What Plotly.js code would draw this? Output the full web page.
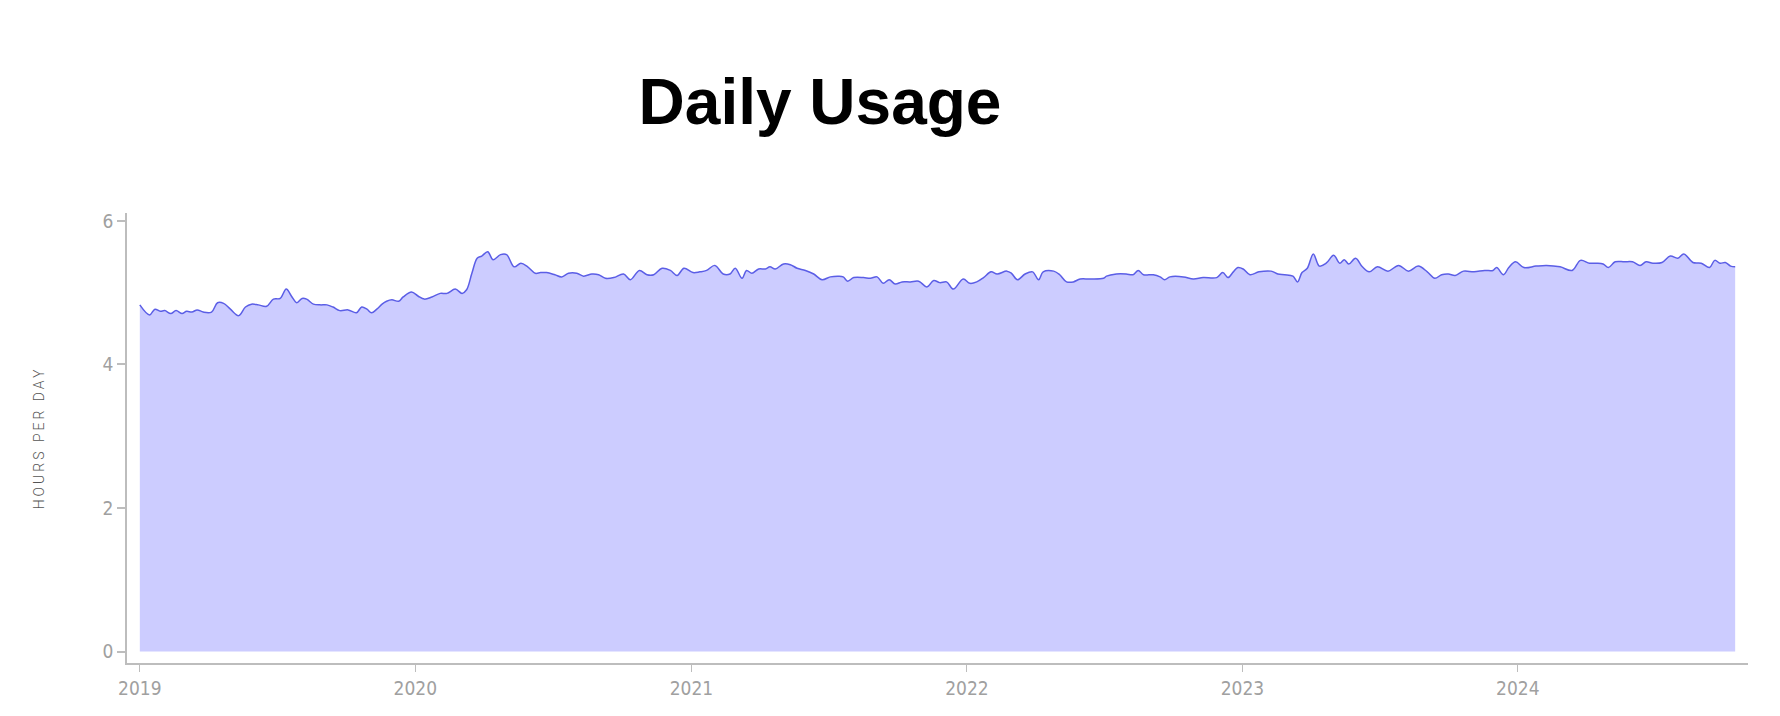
<!DOCTYPE html>
<html>
<head>
<meta charset="utf-8">
<script src="https://cdn.plot.ly/plotly-3.0.1.min.js"></script>
<style>html,body{margin:0;padding:0;background:#fff;}#chart{width:1780px;height:716px;}</style>
</head>
<body>
<div id="chart"></div>
<script>
const dates = [
"2019-01-01","2019-01-14","2019-01-21","2019-01-28","2019-02-03","2019-02-11","2019-02-18","2019-02-26","2019-03-04","2019-03-11",
"2019-03-18","2019-03-26","2019-04-06","2019-04-14","2019-04-22","2019-05-01","2019-05-12","2019-05-21","2019-05-29","2019-06-07",
"2019-06-18","2019-06-27","2019-07-06","2019-07-14","2019-07-21","2019-07-28","2019-08-04","2019-08-10","2019-08-19","2019-08-28",
"2019-09-06","2019-09-14","2019-09-23","2019-10-04","2019-10-15","2019-10-22","2019-10-29","2019-11-04","2019-11-11","2019-11-18",
"2019-11-24","2019-12-01","2019-12-10","2019-12-16","2019-12-27","2020-01-05","2020-01-13","2020-01-23","2020-02-03","2020-02-12",
"2020-02-23","2020-03-03","2020-03-09","2020-03-16","2020-03-23","2020-03-29","2020-04-06","2020-04-13","2020-04-23","2020-05-01",
"2020-05-11","2020-05-20","2020-05-29","2020-06-08","2020-06-15","2020-06-23","2020-07-04","2020-07-13","2020-07-22","2020-08-02",
"2020-08-11","2020-08-22","2020-08-31","2020-09-09","2020-09-20","2020-10-03","2020-10-12","2020-10-24","2020-11-03","2020-11-12",
"2020-11-23","2020-12-04","2020-12-13","2020-12-22","2021-01-03","2021-01-12","2021-01-21","2021-02-01","2021-02-12","2021-02-21",
"2021-02-28","2021-03-09","2021-03-15","2021-03-22","2021-03-31","2021-04-09","2021-04-15","2021-04-22","2021-05-03","2021-05-12",
"2021-05-21","2021-06-01","2021-06-12","2021-06-23","2021-07-04","2021-07-15","2021-07-21","2021-07-27","2021-08-04","2021-08-17",
"2021-08-26","2021-09-04","2021-09-12","2021-09-20","2021-09-28","2021-10-07","2021-10-18","2021-10-29","2021-11-09","2021-11-18",
"2021-11-26","2021-12-05","2021-12-14","2021-12-27","2022-01-05","2022-01-14","2022-01-23","2022-02-02","2022-02-10","2022-02-23",
"2022-03-01","2022-03-09","2022-03-19","2022-03-29","2022-04-06","2022-04-12","2022-04-26","2022-05-04","2022-05-13","2022-05-22",
"2022-05-31","2022-06-13","2022-07-01","2022-07-05","2022-07-18","2022-07-31","2022-08-09","2022-08-16","2022-08-23","2022-09-05",
"2022-09-14","2022-09-20","2022-09-27","2022-10-15","2022-10-28","2022-11-10","2022-11-28","2022-12-06","2022-12-13","2022-12-20",
"2022-12-26","2023-01-02","2023-01-11","2023-01-23","2023-02-08","2023-02-17","2023-02-26","2023-03-09","2023-03-15","2023-03-21",
"2023-03-28","2023-04-05","2023-04-13","2023-04-22","2023-05-02","2023-05-10","2023-05-16","2023-05-22","2023-05-31","2023-06-09",
"2023-06-18","2023-06-29","2023-07-13","2023-07-27","2023-08-09","2023-08-22","2023-09-03","2023-09-13","2023-09-22","2023-10-01",
"2023-10-10","2023-10-21","2023-11-04","2023-11-18","2023-11-29","2023-12-04","2023-12-13","2023-12-20","2023-12-29","2024-01-09",
"2024-01-25","2024-02-08","2024-02-26","2024-03-13","2024-03-24","2024-04-05","2024-04-14","2024-04-23","2024-04-30","2024-05-09",
"2024-05-21","2024-06-01","2024-06-11","2024-06-19","2024-06-28","2024-07-10","2024-07-21","2024-07-31","2024-08-08","2024-08-20",
"2024-08-31","2024-09-11","2024-09-18","2024-09-25","2024-10-02","2024-10-09","2024-10-15"
];
const hoursPerDay = [
4.83,4.69,4.77,4.74,4.75,4.71,4.75,4.71,4.74,4.73,
4.76,4.73,4.73,4.86,4.85,4.77,4.68,4.80,4.84,4.83,
4.81,4.91,4.92,5.05,4.95,4.86,4.92,4.91,4.84,4.83,
4.83,4.80,4.75,4.76,4.72,4.80,4.77,4.72,4.77,4.84,
4.88,4.90,4.88,4.94,5.01,4.95,4.91,4.94,4.99,4.99,
5.05,4.99,5.04,5.27,5.48,5.51,5.57,5.46,5.53,5.53,
5.36,5.41,5.36,5.27,5.28,5.28,5.25,5.22,5.27,5.27,
5.23,5.26,5.25,5.20,5.21,5.26,5.18,5.31,5.25,5.25,
5.34,5.31,5.24,5.34,5.28,5.29,5.31,5.38,5.26,5.26,
5.34,5.20,5.31,5.27,5.33,5.33,5.36,5.33,5.40,5.39,
5.34,5.31,5.26,5.18,5.22,5.23,5.22,5.16,5.21,5.21,
5.20,5.22,5.13,5.18,5.12,5.15,5.15,5.16,5.08,5.17,
5.14,5.15,5.05,5.19,5.13,5.15,5.21,5.29,5.26,5.30,
5.27,5.18,5.26,5.29,5.18,5.29,5.30,5.25,5.15,5.15,
5.19,5.19,5.20,5.23,5.26,5.26,5.25,5.31,5.25,5.25,
5.22,5.18,5.22,5.22,5.19,5.21,5.21,5.28,5.21,5.29,
5.35,5.33,5.25,5.29,5.30,5.26,5.25,5.23,5.15,5.28,
5.34,5.54,5.37,5.41,5.52,5.41,5.46,5.40,5.48,5.36,
5.29,5.36,5.30,5.38,5.30,5.37,5.29,5.20,5.25,5.26,
5.24,5.30,5.29,5.31,5.31,5.35,5.25,5.35,5.43,5.35,
5.37,5.38,5.36,5.31,5.45,5.41,5.41,5.40,5.35,5.43,
5.43,5.43,5.38,5.43,5.41,5.42,5.51,5.48,5.54,5.42,
5.41,5.35,5.45,5.41,5.42,5.37,5.36
];
const xTickVals = ["2019-01-01","2020-01-01","2021-01-01","2022-01-01","2023-01-01","2024-01-01"];
const xTickText = ["2019","2020","2021","2022","2023","2024"];
const yTickVals = [0,2,4,6];
const yTickText = ["0","2","4","6"];

const tickFont = {family: "'Liberation Sans Narrow', 'DejaVu Sans Condensed', Roboto, sans-serif", size: 19, color: "#a0a0a0", weight: 400};

const trace = {
  x: dates, y: hoursPerDay, type: "scatter", mode: "lines",
  fill: "tozeroy", fillcolor: "#ccccff",
  line: {color: "#5b5ee6", width: 1.5, shape: "spline", smoothing: 1},
  hoverinfo: "x+y"
};

const layout = {
  width: 1780, height: 716,
  paper_bgcolor: "#ffffff", plot_bgcolor: "#ffffff",
  margin: {l: 127, r: 32, t: 213, b: 53, pad: 0},
  showlegend: false,
  title: {
    text: "<b>Daily Usage</b>",
    font: {family: "'Liberation Sans', Arial, sans-serif", size: 64, color: "#000"},
    x: 0.4607, xref: "container", xanchor: "center",
    y: 0.858, yref: "container", yanchor: "middle"
  },
  xaxis: {
    type: "date", range: ["2018-12-15", "2024-11-01"],
    tickmode: "array", tickvals: xTickVals, ticktext: xTickText,
    showgrid: false, zeroline: false,
    showline: true, linecolor: "#bdbdbd", linewidth: 1.5,
    ticks: "outside", ticklen: 7, tickwidth: 1, tickcolor: "#bdbdbd",
    tickfont: tickFont
  },
  yaxis: {
    range: [-0.16, 6.11],
    tickmode: "array", tickvals: yTickVals, ticktext: yTickText,
    showgrid: false, zeroline: false,
    showline: true, linecolor: "#bdbdbd", linewidth: 1.5,
    ticks: "outside", ticklen: 8, tickwidth: 1.5, tickcolor: "#bdbdbd",
    tickfont: tickFont,
    title: {text: "HOURS PER DAY", font: {family: "Roboto, 'DejaVu Sans', sans-serif", size: 14, color: "#555555", weight: 300}, standoff: 55}
  }
};

Plotly.newPlot("chart", [trace], layout, {displayModeBar: false, responsive: false}).then(function () {
  const t = document.querySelector(".ytitle");
  if (t) { t.style.letterSpacing = "3px"; }
});
</script>
</body>
</html>
